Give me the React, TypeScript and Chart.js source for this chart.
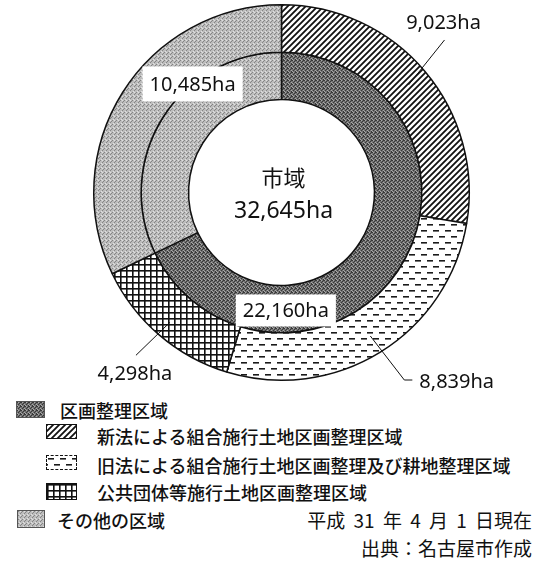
import React, { useEffect, useRef } from "react";
import { Chart, registerables } from "chart.js";

Chart.register(...registerables);

// ---- data ----
const INNER_CATEGORIES = ["区画整理区域", "その他の区域"];
const INNER_VALUES = [22160, 10485];
const OUTER_CATEGORIES = [
  "新法による組合施行土地区画整理区域",
  "旧法による組合施行土地区画整理及び耕地整理区域",
  "公共団体等施行土地区画整理区域",
  "その他の区域",
];
const OUTER_VALUES = [9023, 8839, 4298, 10485];
const CENTER_TITLE = "市域";
const UNIT = "ha";
const DATE_NOTE = "平成 31 年 4 月 1 日現在";
const SOURCE_NOTE = "出典：名古屋市作成";

const NUM_FONT = "'Noto Sans', 'Noto Sans CJK JP', sans-serif";
const JP_FONT = "'Noto Sans CJK JP', 'Noto Sans', sans-serif";

const fmt = (v: number) => v.toLocaleString("en-US") + UNIT;

// ---- pattern tiles ----
function tile(w: number, h: number, draw: (c: CanvasRenderingContext2D) => void) {
  const c = document.createElement("canvas");
  c.width = w;
  c.height = h;
  draw(c.getContext("2d") as CanvasRenderingContext2D);
  return c;
}
function makeTiles() {
  const dark = tile(4, 4, (c) => {
    c.fillStyle = "#727272";
    c.fillRect(0, 0, 4, 4);
    c.fillStyle = "#383838";
    [[0, 0], [2, 1], [1, 2], [3, 3], [3, 0]].forEach(([x, y]) => c.fillRect(x, y, 1, 1));
    c.fillStyle = "#a8a8a8";
    [[1, 0], [3, 2], [0, 3]].forEach(([x, y]) => c.fillRect(x, y, 1, 1));
  });
  const light = tile(4, 4, (c) => {
    c.fillStyle = "#bdbdbd";
    c.fillRect(0, 0, 4, 4);
    c.fillStyle = "#858585";
    [[0, 0], [2, 2], [3, 1]].forEach(([x, y]) => c.fillRect(x, y, 1, 1));
    c.fillStyle = "#e0e0e0";
    [[1, 3], [2, 0]].forEach(([x, y]) => c.fillRect(x, y, 1, 1));
  });
  const hatch = tile(6, 6, (c) => {
    c.fillStyle = "#fff";
    c.fillRect(0, 0, 6, 6);
    c.strokeStyle = "#111";
    c.lineWidth = 1.8;
    c.beginPath();
    c.moveTo(-1, 7); c.lineTo(7, -1);
    c.moveTo(-4, 4); c.lineTo(4, -4);
    c.moveTo(2, 10); c.lineTo(10, 2);
    c.stroke();
  });
  const dash = tile(12, 12, (c) => {
    c.fillStyle = "#fff";
    c.fillRect(0, 0, 12, 12);
    c.fillStyle = "#1a1a1a";
    c.fillRect(1, 2, 6, 1.6);
    c.fillRect(7, 8, 5, 1.6);
    c.fillRect(0, 8, 1, 1.6);
  });
  const grid = tile(6, 6, (c) => {
    c.fillStyle = "#fff";
    c.fillRect(0, 0, 6, 6);
    c.fillStyle = "#111";
    c.fillRect(0, 0, 1.6, 6);
    c.fillRect(0, 0, 6, 1.6);
  });
  return { dark, light, hatch, dash, grid };
}

// ---- label layout (positions only) ----
const LEADERS = [
  { f: 0.55, pts: [[36, -45]], text: [-1, -17], align: "center" },
  { f: 0.6, pts: [[34, 44], [42, 44]], text: [7, 2], align: "left" },
  { f: 0.65, pts: [[-34, 33]], text: [-1, 19], align: "center" },
];

export default function App() {
  const canvasRef = useRef<HTMLCanvasElement>(null);
  const iconRefs = useRef<Record<string, HTMLDivElement | null>>({});

  useEffect(() => {
    const t = makeTiles();
    const ctx0 = canvasRef.current!.getContext("2d")!;
    const pat = (c: HTMLCanvasElement) => ctx0.createPattern(c, "repeat")!;

    const labelPlugin = {
      id: "labels",
      afterDatasetsDraw(chart: any) {
        const ctx = chart.ctx as CanvasRenderingContext2D;
        const outer = chart.getDatasetMeta(0).data;
        const inner = chart.getDatasetMeta(1).data;
        const cx = outer[0].x;
        const cy = outer[0].y;
        const pol = (a: number, r: number) => [cx + Math.cos(a) * r, cy + Math.sin(a) * r];
        ctx.save();
        ctx.fillStyle = "#111";
        ctx.strokeStyle = "#111";
        ctx.lineWidth = 1;
        ctx.textBaseline = "middle";

        const total = INNER_VALUES.reduce((a, b) => a + b, 0);
        ctx.textAlign = "center";
        ctx.font = `22px ${JP_FONT}`;
        ctx.fillText(CENTER_TITLE, cx + 2, cy - 15);
        ctx.font = `23px ${NUM_FONT}`;
        ctx.fillText(fmt(total), cx + 2, cy + 19);

        LEADERS.forEach((L, i) => {
          const arc = outer[i];
          const mid = (arc.startAngle + arc.endAngle) / 2;
          const [sx, sy] = pol(mid, arc.innerRadius + L.f * (arc.outerRadius - arc.innerRadius));
          ctx.beginPath();
          ctx.moveTo(sx, sy);
          let ex = sx, ey = sy;
          L.pts.forEach(([dx, dy]) => {
            ex = sx + dx;
            ey = sy + dy;
            ctx.lineTo(ex, ey);
          });
          ctx.stroke();
          ctx.font = `20px ${NUM_FONT}`;
          ctx.textAlign = L.align as CanvasTextAlign;
          ctx.fillText(fmt(OUTER_VALUES[i]), ex + L.text[0], ey + L.text[1]);
        });

        const boxAt = (arc: any, t: number, f: number, value: number, h: number) => {
          const a = arc.startAngle + t * (arc.endAngle - arc.startAngle);
          const [bx, by] = pol(a, arc.innerRadius + f * (arc.outerRadius - arc.innerRadius));
          ctx.font = `20px ${NUM_FONT}`;
          const txt = fmt(value);
          const w = ctx.measureText(txt).width + 14;
          ctx.fillStyle = "#fff";
          ctx.fillRect(bx - w / 2, by - h / 2, w, h);
          ctx.fillStyle = "#111";
          ctx.textAlign = "center";
          ctx.fillText(txt, bx, by + 1);
        };
        boxAt(inner[1], 0.66, 1.0, OUTER_VALUES[3], 35);
        boxAt(inner[0], 0.728, 0.53, INNER_VALUES[0], 32);
        ctx.restore();
      },
    };

    const chart = new Chart(canvasRef.current!, {
      type: "doughnut",
      data: {
        labels: OUTER_CATEGORIES,
        datasets: [
          {
            label: "outer",
            data: OUTER_VALUES,
            backgroundColor: [pat(t.hatch), pat(t.dash), pat(t.grid), pat(t.light)],
            borderColor: "#111",
            borderWidth: 1.5,
          },
          {
            label: "inner",
            data: INNER_VALUES,
            backgroundColor: [pat(t.dark), pat(t.light)],
            borderColor: "#111",
            borderWidth: 1.5,
          },
        ],
      },
      options: {
        responsive: false,
        animation: false,
        devicePixelRatio: 1,
        cutout: "49.5%",
        layout: { padding: { left: 93, right: 71, top: 4, bottom: 14 } },
        plugins: { legend: { display: false }, tooltip: { enabled: false } },
        events: [],
      },
      plugins: [labelPlugin],
    });

    const set = (k: string, c: HTMLCanvasElement) => {
      const el = iconRefs.current[k];
      if (el) el.style.backgroundImage = `url(${c.toDataURL()})`;
    };
    set("dark", t.dark);
    set("hatch", t.hatch);
    set("dash", t.dash);
    set("grid", t.grid);
    set("light", t.light);

    return () => chart.destroy();
  }, []);

  const legendRows = [
    { key: "dark", text: INNER_CATEGORIES[0], icon: [16, 401, 29, 17], tx: 60, ty: 410, border: "1px solid #555" },
    { key: "hatch", text: OUTER_CATEGORIES[0], icon: [46, 424, 31, 15], tx: 97, ty: 436, border: "1.5px solid #111" },
    { key: "dash", text: OUTER_CATEGORIES[1], icon: [46, 455, 31, 15], tx: 97, ty: 465, border: "1.5px dashed #111" },
    { key: "grid", text: OUTER_CATEGORIES[2], icon: [46, 483, 31, 17], tx: 97, ty: 492, border: "1.5px solid #111" },
    { key: "light", text: INNER_CATEGORIES[1], icon: [17, 510, 28, 18], tx: 57, ty: 520, border: "1px solid #555" },
  ];

  return (
    <div style={{ position: "absolute", left: 0, top: 0, width: 541, height: 569, background: "#fff" }}>
      <canvas ref={canvasRef} width={541} height={395} style={{ position: "absolute", left: 0, top: 0 }} />
      {legendRows.map((r) => (
        <React.Fragment key={r.key}>
          <div
            ref={(el) => {
              iconRefs.current[r.key] = el;
            }}
            style={{
              position: "absolute",
              left: r.icon[0],
              top: r.icon[1],
              width: r.icon[2],
              height: r.icon[3],
              boxSizing: "border-box",
              border: r.border,
            }}
          />
          <div
            style={{
              position: "absolute",
              left: r.tx,
              top: r.ty - 12,
              lineHeight: "24px",
              fontSize: 18,
              fontFamily: JP_FONT,
              fontWeight: 500,
              color: "#111",
              whiteSpace: "nowrap",
            }}
          >
            {r.text}
          </div>
        </React.Fragment>
      ))}
      <div
        style={{
          position: "absolute",
          right: 9,
          top: 520 - 12,
          lineHeight: "24px",
          fontSize: 19,
          fontFamily: JP_FONT,
          color: "#111",
          whiteSpace: "nowrap",
          wordSpacing: 4,
        }}
      >
        {DATE_NOTE}
      </div>
      <div
        style={{
          position: "absolute",
          right: 9,
          top: 548 - 12,
          lineHeight: "24px",
          fontSize: 19,
          fontFamily: JP_FONT,
          color: "#111",
          whiteSpace: "nowrap",
        }}
      >
        {SOURCE_NOTE}
      </div>
    </div>
  );
}
